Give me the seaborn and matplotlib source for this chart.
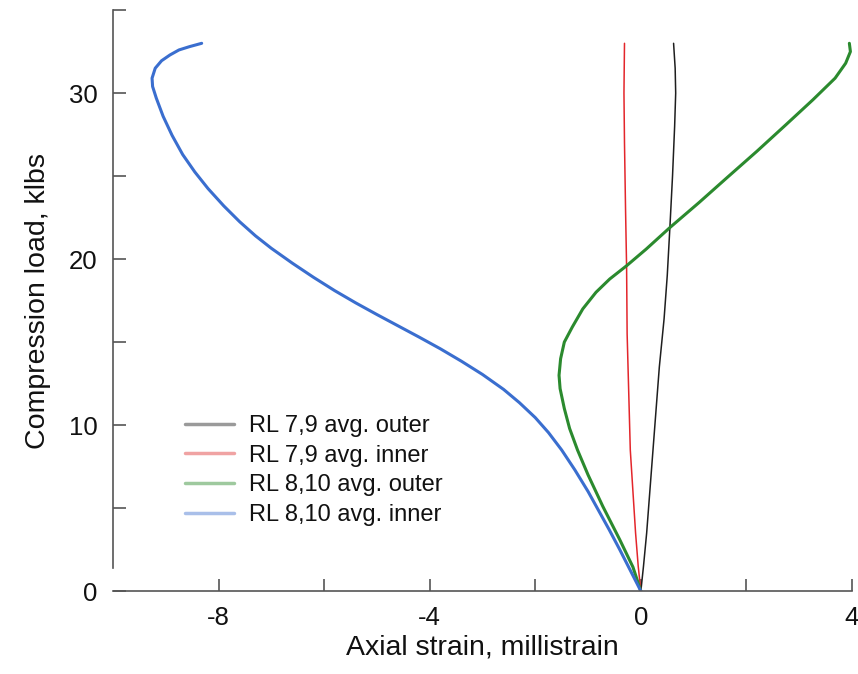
import matplotlib
matplotlib.use("Agg")
import matplotlib.pyplot as plt
from matplotlib.lines import Line2D
import seaborn as sns
import pandas as pd

# ---- data (strain in millistrain, load in klbs) ----
series_names = ["RL 7,9 avg. outer", "RL 7,9 avg. inner",
                "RL 8,10 avg. outer", "RL 8,10 avg. inner"]

outer79_x = [0, 0.05, 0.11, 0.17, 0.23, 0.29, 0.35, 0.44, 0.50, 0.55, 0.60, 0.64, 0.66, 0.65, 0.62]
outer79_y = [0, 1.5, 3.5, 6.0, 8.5, 11.0, 13.5, 16.4, 19.0, 21.9, 25.0, 28.0, 30.0, 31.5, 33.0]

inner79_x = [0, -0.05, -0.10, -0.15, -0.20, -0.23, -0.26, -0.27, -0.29, -0.31, -0.32, -0.31]
inner79_y = [0, 1.5, 3.5, 6.0, 8.5, 12.0, 15.5, 19.5, 23.0, 27.0, 30.0, 33.0]

outer810_x = [0, -0.15, -0.40, -0.72, -1.00, -1.20, -1.35, -1.45, -1.53, -1.55, -1.52, -1.45,
              -1.30, -1.10, -0.85, -0.59, -0.27, 0.10, 0.55, 1.10, 1.63, 2.20, 2.75, 3.26,
              3.68, 3.88, 3.97, 3.95]
outer810_y = [0, 1.45, 3.1, 5.1, 7.0, 8.5, 9.8, 11.0, 12.2, 13.0, 14.0, 15.0,
              15.9, 17.0, 18.0, 18.8, 19.6, 20.6, 21.9, 23.4, 24.9, 26.5, 28.1, 29.6,
              30.9, 31.8, 32.5, 33.0]

inner810_x = [0, -0.2, -0.4, -0.6, -0.8, -1.0, -1.25, -1.5, -1.75, -2.0, -2.3, -2.6,
              -3.0, -3.4, -3.8, -4.2, -4.6, -5.0, -5.4, -5.8, -6.2, -6.6, -7.0, -7.3,
              -7.6, -7.9, -8.2, -8.45, -8.68, -8.88, -9.05, -9.18, -9.25, -9.26, -9.2,
              -9.08, -8.92, -8.75, -8.55, -8.32]
inner810_y = [0, 1.25, 2.5, 3.7, 4.85, 6.0, 7.3, 8.5, 9.55, 10.45, 11.35, 12.15,
              13.05, 13.85, 14.6, 15.3, 15.98, 16.66, 17.36, 18.1, 18.9, 19.75, 20.65, 21.4,
              22.25, 23.2, 24.25, 25.25, 26.3, 27.45, 28.6, 29.7, 30.4, 30.9, 31.5,
              31.95, 32.3, 32.6, 32.8, 33.0]

x_ticks = [-8, -6, -4, -2, 0, 2, 4]
x_labels = ["-8", "", "-4", "", "0", "", "4"]
y_ticks = [0, 5, 10, 15, 20, 25, 30, 35]
y_labels = ["0", "", "10", "", "20", "", "30", ""]

# ---- build long table ----
frames = []
for name, xs, ys in zip(series_names,
                        [outer79_x, inner79_x, outer810_x, inner810_x],
                        [outer79_y, inner79_y, outer810_y, inner810_y]):
    frames.append(pd.DataFrame({"strain": xs, "load": ys, "series": name}))
df = pd.concat(frames, ignore_index=True)

line_colors = {"RL 7,9 avg. outer": "#1e1e1e",
               "RL 7,9 avg. inner": "#e3262b",
               "RL 8,10 avg. outer": "#2b8a2e",
               "RL 8,10 avg. inner": "#3a6ecf"}
legend_colors = ["#9a9a9a", "#f0a3a3", "#9ec99e", "#a9bfe9"]
widths = {"RL 7,9 avg. outer": 1.1, "RL 7,9 avg. inner": 1.1,
          "RL 8,10 avg. outer": 2.2, "RL 8,10 avg. inner": 2.2}

sns.set_style("white")
plt.rcParams["font.family"] = ["Liberation Sans", "DejaVu Sans"]

fig = plt.figure(figsize=(8.58, 6.74), dpi=100)
ax = fig.add_axes([0.1317, 0.123, 0.8613, 0.862])

for name in series_names:
    sub = df[df["series"] == name]
    sns.lineplot(data=sub, x="strain", y="load", sort=False, estimator=None,
                 color=line_colors[name], linewidth=widths[name], ax=ax, legend=False)

ax.set_xlim(-10, 4)
ax.set_ylim(0, 35)
ax.set_xticks(x_ticks)
ax.set_xticklabels(x_labels)
ax.set_yticks(y_ticks)
ax.set_yticklabels(y_labels)
ax.tick_params(bottom=True, left=True, direction="in", length=9, width=1.2,
               color="#555555", labelcolor="#111111", labelsize=18.5, pad=11)

for s in ["top", "right"]:
    ax.spines[s].set_visible(False)
for s in ["left", "bottom"]:
    ax.spines[s].set_color("#555555")
    ax.spines[s].set_linewidth(1.2)
ax.spines["left"].set_bounds(1.4, 35)

ax.set_xlabel("Axial strain, millistrain", fontsize=20.5, labelpad=3, color="#111111")
ax.set_ylabel("Compression load, klbs", fontsize=20.5, labelpad=13, color="#111111")

handles = [Line2D([0], [0], color=c, lw=2.5) for c in legend_colors]
ax.legend(handles, series_names, loc="upper left", bbox_to_anchor=(0.068, 0.34),
          frameon=False, fontsize=17, handlelength=2.1, handletextpad=0.65,
          labelspacing=0.33, labelcolor="#111111")

fig.savefig("out.png", dpi=100)
